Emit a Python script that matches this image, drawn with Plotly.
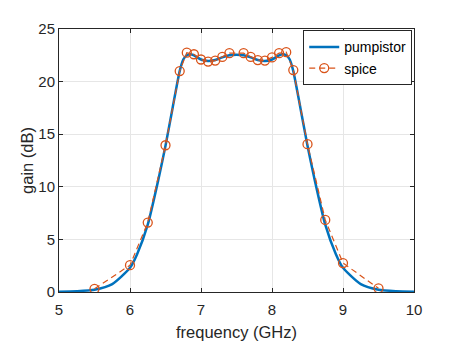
import plotly.graph_objects as go

# pumpistor model curve
pump_freq = [5.0, 5.25, 5.5, 5.75, 6.0, 6.1, 6.25, 6.4, 6.5, 6.6, 6.7, 6.75, 6.8, 6.85, 6.9, 7.0, 7.1, 7.2, 7.3, 7.4, 7.5,
             7.6, 7.7, 7.8, 7.9, 8.0, 8.1, 8.15, 8.2, 8.25, 8.3, 8.4, 8.5, 8.6, 8.75, 8.9, 9.0, 9.25, 9.5, 9.75, 10.0]
pump_gain = [0.03, 0.08, 0.22, 0.75, 2.3, 3.6, 6.4, 10.7, 13.9, 17.5, 21.0, 22.1, 22.5, 22.6, 22.5, 22.1, 21.95, 22.05, 22.3, 22.5, 22.55,
             22.5, 22.3, 22.05, 21.95, 22.1, 22.5, 22.6, 22.5, 22.1, 21.0, 17.5, 13.9, 10.7, 6.4, 3.6, 2.3, 0.75, 0.22, 0.08, 0.03]

# spice simulation points
spice_freq = [5.5, 6.0, 6.25, 6.5, 6.7, 6.8, 6.9, 7.0, 7.1, 7.2, 7.3, 7.4, 7.6, 7.7, 7.8, 7.9, 8.0, 8.1, 8.2, 8.3,
              8.5, 8.75, 9.0, 9.5]
spice_gain = [0.3, 2.55, 6.6, 13.95, 21.0, 22.75, 22.6, 22.1, 21.9, 22.0, 22.35, 22.7, 22.7, 22.35, 22.05, 22.0, 22.3, 22.7, 22.8, 21.1,
              14.05, 6.85, 2.75, 0.35]

x_ticks = [5, 6, 7, 8, 9, 10]
y_ticks = [0, 5, 10, 15, 20, 25]

blue = "#0072BD"
orange = "#D95319"
axc = "#262626"
fam = "Liberation Sans, Arial, sans-serif"

fig = go.Figure()
fig.add_trace(go.Scatter(x=pump_freq, y=pump_gain, mode="lines", name="pumpistor",
                         line=dict(color=blue, width=2.5, shape="spline", smoothing=0.6)))
fig.add_trace(go.Scatter(x=spice_freq, y=spice_gain, mode="lines+markers", name="spice",
                         line=dict(color=orange, width=1.2, dash="6px,4px"),
                         marker=dict(symbol="circle-open", size=9, color=orange, line=dict(width=1.3))))

axis_common = dict(showgrid=True, gridcolor="#e6e6e6", gridwidth=1, zeroline=False,
                   showline=True, linecolor=axc, linewidth=1, mirror="allticks",
                   ticks="inside", ticklen=4, tickcolor=axc,
                   tickfont=dict(family=fam, size=15, color=axc),
                   title_font=dict(family=fam, size=16.5, color=axc))

fig.update_xaxes(range=[5, 10], tickvals=x_ticks, title_text="frequency (GHz)", title_standoff=9,
                 ticklabelstandoff=4, **axis_common)
fig.update_yaxes(range=[0, 25], tickvals=y_ticks, title_text="gain (dB)", title_standoff=0, **axis_common)

fig.update_layout(width=457, height=343, margin=dict(l=51, r=51, t=18, b=58),
                  plot_bgcolor="white", paper_bgcolor="white",
                  font=dict(family=fam, color=axc),
                  legend=dict(x=0.995, y=0.995, xanchor="right", yanchor="top",
                              bgcolor="white", bordercolor=axc, borderwidth=1,
                              font=dict(size=14, color="black"),
                              tracegroupgap=0, itemwidth=30),
                  showlegend=True)

fig.write_html("out.html")
